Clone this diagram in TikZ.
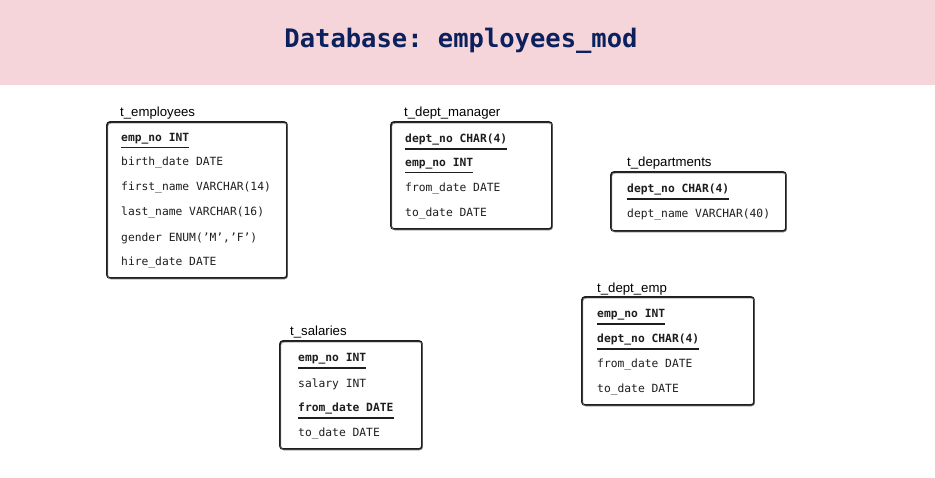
\documentclass[tikz,border=0pt]{standalone}
\usepackage{fontspec}
\setmainfont{Liberation Sans}
\setmonofont{DejaVu Sans Mono}
\definecolor{bandpink}{HTML}{F5D5DA}
\definecolor{titleblue}{HTML}{0B215E}
\definecolor{ink}{HTML}{1E1E1E}
\tikzset{
  tbl/.style={draw=ink, line width=1.7pt, rounded corners=3pt},
  tblsk/.style={draw=ink!60, line width=0.6pt, rounded corners=3pt},
  tname/.style={anchor=west, font=\fontsize{13.2}{14}\selectfont, inner sep=0pt, text=black, yshift=-2pt},
  fld/.style={anchor=west, font=\ttfamily\fontsize{11.3}{13}\selectfont, inner sep=0pt, text=ink, yshift=-2pt},
  key/.style={anchor=west, font=\ttfamily\bfseries\fontsize{11.3}{13}\selectfont, inner sep=0pt, text=ink, yshift=-2pt},
  uline/.style={draw=ink, line width=1.3pt}
}
\newcommand{\sketchbox}[4]{%
  \draw[tbl] (#1,#2) rectangle (#3,#4);
  \draw[tblsk] (#1+0.8,#2+1.2) rectangle (#3+0.6,#4+1.0);
}
\newcommand{\keyline}[1]{%
  \draw[uline] ([yshift=-3.2pt]#1.south west) -- ([yshift=-3.2pt]#1.south east);
}
\begin{document}
\begin{tikzpicture}[x=1pt,y=-1pt]
\useasboundingbox (0,0) rectangle (935,478);
\fill[white] (0,0) rectangle (935,478);
\fill[bandpink] (0,0) rectangle (935,85);
\node[font=\ttfamily\bfseries\fontsize{25.5}{28}\selectfont, text=titleblue] (title) at (461,41) {Database: employees\_mod};

% t_employees
\node[tname] (emplbl) at (120,111) {t\_employees};
\sketchbox{107}{122}{287}{278}
\node[key] (e1) at (121,137) {emp\_no INT};
\keyline{e1}
\node[fld] (e2) at (121,161) {birth\_date DATE};
\node[fld] (e3) at (121,186) {first\_name VARCHAR(14)};
\node[fld] (e4) at (121,211) {last\_name VARCHAR(16)};
\node[fld] (e5) at (121,236) {gender ENUM(’M’,’F’)};
\node[fld] (e6) at (121,261) {hire\_date DATE};

% t_dept_manager
\node[tname] (dmlbl) at (404,111) {t\_dept\_manager};
\sketchbox{391}{122}{552}{229}
\node[key] (m1) at (405,138) {dept\_no CHAR(4)};
\keyline{m1}
\node[key] (m2) at (405,162) {emp\_no INT};
\keyline{m2}
\node[fld] (m3) at (405,187) {from\_date DATE};
\node[fld] (m4) at (405,212) {to\_date DATE};

% t_departments
\node[tname] (dlbl) at (627,161) {t\_departments};
\sketchbox{611}{172}{786}{231}
\node[key] (d1) at (627,188) {dept\_no CHAR(4)};
\keyline{d1}
\node[fld] (d2) at (627,213) {dept\_name VARCHAR(40)};

% t_dept_emp
\node[tname] (delbl) at (597,287) {t\_dept\_emp};
\sketchbox{582}{297}{754}{405}
\node[key] (p1) at (597,313) {emp\_no INT};
\keyline{p1}
\node[key] (p2) at (597,338) {dept\_no CHAR(4)};
\keyline{p2}
\node[fld] (p3) at (597,363) {from\_date DATE};
\node[fld] (p4) at (597,388) {to\_date DATE};

% t_salaries
\node[tname] (slbl) at (290,330) {t\_salaries};
\sketchbox{280}{341}{422}{449}
\node[key] (s1) at (298,357) {emp\_no INT};
\keyline{s1}
\node[fld] (s2) at (298,382) {salary INT};
\node[key] (s3) at (298,407) {from\_date DATE};
\keyline{s3}
\node[fld] (s4) at (298,432) {to\_date DATE};
\end{tikzpicture}
\end{document}
